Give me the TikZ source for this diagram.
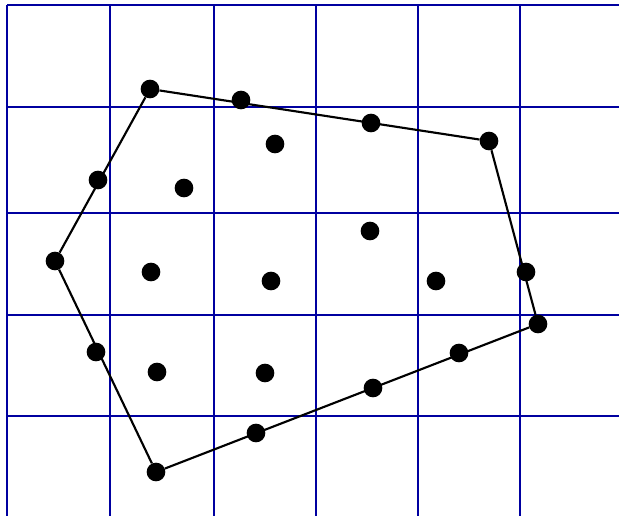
\documentclass[tikz,border=0pt]{standalone}
\usepackage{tikz}
\definecolor{gridblue}{RGB}{0,0,160}

\begin{document}
\begin{tikzpicture}[
    x=0.75pt, y=-0.75pt,
    gridline/.style={draw=gridblue, line width=1.8pt},
    dot/.style={
        circle,
        fill=black,
        inner sep=0pt,
        minimum size=14pt
    },
    edge/.style={draw, line width=1.6pt},
]

\useasboundingbox (0,0) rectangle (619,516);

% Grid
\foreach \gx in {7,110,214,316,418,520}
    \draw[gridline] (\gx,5) -- (\gx,516);
\foreach \gy in {5,107,213,315,416}
    \draw[gridline] (7,\gy) -- (619,\gy);

% Corners of the hull
\node[dot] (top)   at (150,89)  {};
\node[dot] (right) at (489,141) {};
\node[dot] (low)   at (538,324) {};
\node[dot] (bot)   at (156,472) {};
\node[dot] (left)  at (55,261)  {};

% Hull
\draw[edge] (top) -- (right) -- (low) -- (bot) -- (left) -- (top);

% Points on the hull
\node[dot] (t1) at (241,100) {};
\node[dot] (t2) at (371,123) {};
\node[dot] (r1) at (526,272) {};
\node[dot] (b1) at (459,353) {};
\node[dot] (b2) at (373,388) {};
\node[dot] (b3) at (256,433) {};
\node[dot] (l1) at (96,352)  {};
\node[dot] (l2) at (98,180)  {};

% Inside points
\node[dot] (p1) at (275,144) {};
\node[dot] (p2) at (184,188) {};
\node[dot] (p3) at (370,231) {};
\node[dot] (p4) at (151,272) {};
\node[dot] (p5) at (271,281) {};
\node[dot] (p6) at (436,281) {};
\node[dot] (p7) at (157,372) {};
\node[dot] (p8) at (265,373) {};

\end{tikzpicture}
\end{document}
